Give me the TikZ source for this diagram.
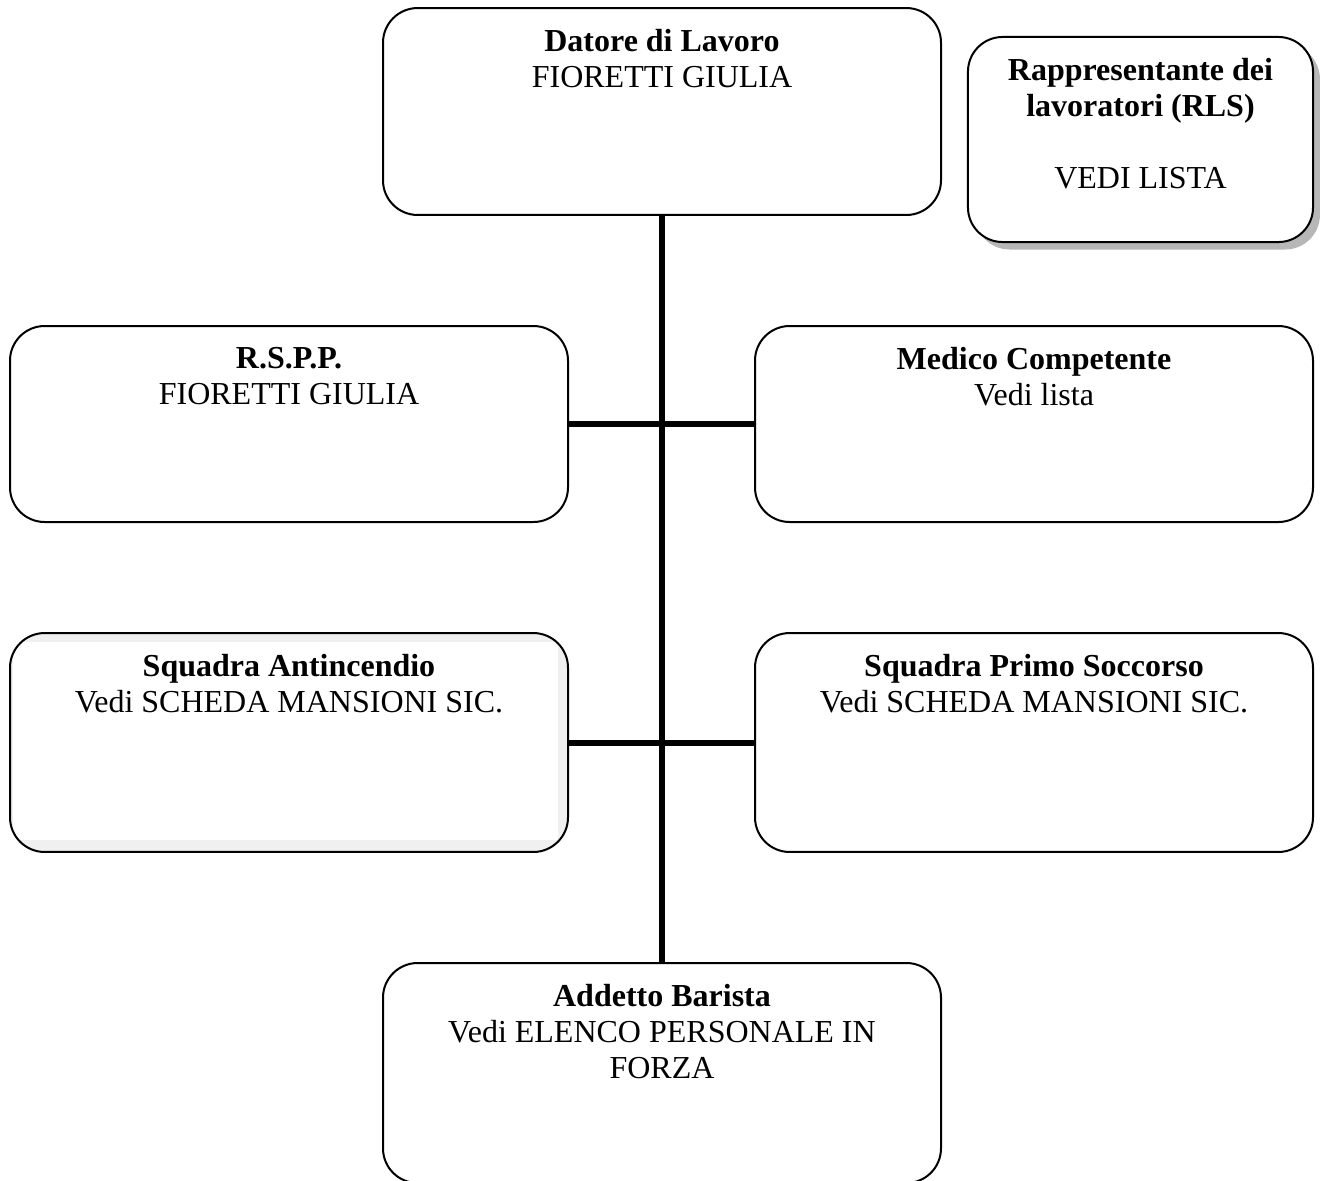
\documentclass[tikz,border=0pt]{standalone}
\usepackage{fontspec}
\setmainfont{Liberation Serif}
\usetikzlibrary{shadows}
\definecolor{bandgray}{RGB}{240,240,240}
\begin{document}
\begin{tikzpicture}[x=0.375pt, y=-0.375pt,
  box/.style={draw, line width=0.75pt, rounded corners=13pt, inner sep=0pt, fill=white},
  wide/.style={minimum width=209.25pt},
  lbl/.style={anchor=north, align=center, inner sep=0pt, font=\fontsize{12}{13.5}\selectfont},
  link/.style={line width=2.25pt}]
  \useasboundingbox (0,0) rectangle (1322,1180);
  % boxes
  \node[box, wide, minimum height=77.6pt] (dl) at (662,111.5) {};
  \node[box, minimum width=129.4pt, minimum height=76.9pt,
    drop shadow={shadow xshift=2.6pt, shadow yshift=-2.8pt, fill=black!40, opacity=0.7}] (rls) at (1140.5,139.5) {};
  \node[box, wide, minimum height=73.5pt] (rspp) at (289,424) {};
  \node[box, wide, minimum height=73.5pt] (mc) at (1034,424) {};
  \node[box, wide, minimum height=82.1pt, fill=bandgray,
    path picture={\fill[white, sharp corners] ([shift={(1pt,-3.5pt)}]path picture bounding box.north west)
      rectangle ([shift={(-3.75pt,4.5pt)}]path picture bounding box.south east);}] (sa) at (289,742.5) {};
  \node[box, wide, minimum height=82.1pt] (sps) at (1034,742.5) {};
  \node[box, wide, minimum height=82.5pt] (ab) at (662,1073) {};
  % texts
  \node[lbl] (dlt) at ([yshift=-8.25pt]dl.north) {\textbf{Datore di Lavoro}\\FIORETTI GIULIA};
  \node[lbl] (rlst) at ([yshift=-8.25pt]rls.north) {\textbf{Rappresentante dei}\\\textbf{lavoratori (RLS)}\\[13.5pt]VEDI LISTA};
  \node[lbl] (rsppt) at ([yshift=-8.25pt]rspp.north) {\textbf{R.S.P.P.}\\FIORETTI GIULIA};
  \node[lbl] (mct) at ([yshift=-8.25pt]mc.north) {\textbf{Medico Competente}\\Vedi lista};
  \node[lbl] (sat) at ([yshift=-8.25pt]sa.north) {\textbf{Squadra Antincendio}\\Vedi SCHEDA MANSIONI SIC.};
  \node[lbl] (spst) at ([yshift=-8.25pt]sps.north) {\textbf{Squadra Primo Soccorso}\\Vedi SCHEDA MANSIONI SIC.};
  \node[lbl] (abt) at ([yshift=-8.25pt]ab.north) {\textbf{Addetto Barista}\\Vedi ELENCO PERSONALE IN\\FORZA};
  % connectors
  \draw[link] (dl.south) -- (ab.north);
  \draw[link] (rspp.east) -- (mc.west);
  \draw[link] (sa.east) -- (sps.west);
\end{tikzpicture}
\end{document}
